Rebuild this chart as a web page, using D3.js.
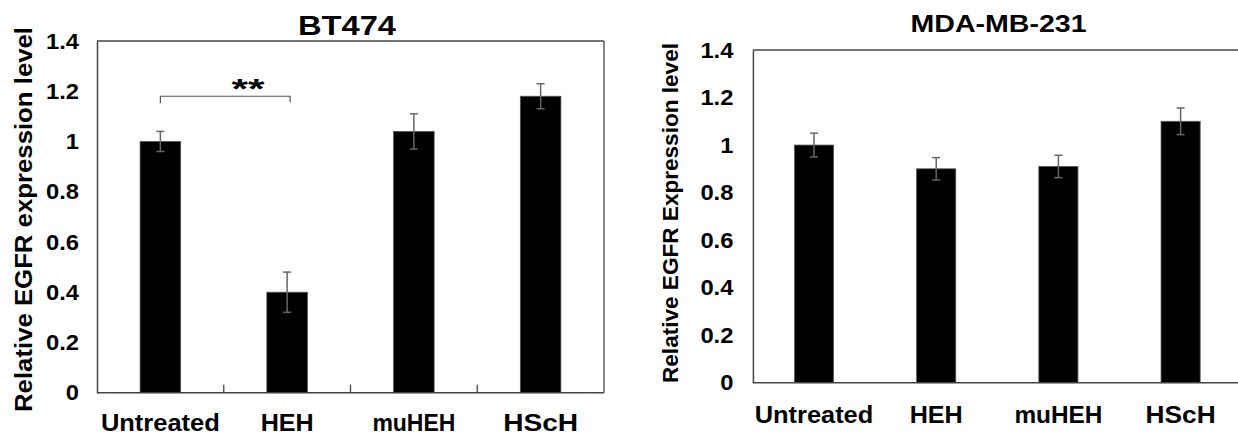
<!DOCTYPE html>
<html>
<head>
<meta charset="utf-8">
<script src="https://cdn.jsdelivr.net/npm/d3@7"></script>
<style>
  body { margin: 0; background: #fff; }
  text { font-family: "Liberation Sans", Arial, sans-serif; font-weight: bold; fill: #000; }
</style>
</head>
<body>
<script>
// data
var groups = ["Untreated", "HEH", "muHEH", "HScH"];
var yTicks = [0, 0.2, 0.4, 0.6, 0.8, 1, 1.2, 1.4];

var bt474Values = [1.0, 0.40, 1.04, 1.18];
var bt474Errors = [0.04, 0.08, 0.07, 0.05];

var mdaValues = [1.0, 0.90, 0.91, 1.10];
var mdaErrors = [0.05, 0.047, 0.047, 0.056];

var svg = d3.select("body").append("svg")
    .attr("width", 1238)
    .attr("height", 438);

svg.append("rect").attr("width", 1238).attr("height", 438).attr("fill", "#fff");

var tickStretch = 1.08;

// one panel, drawn with its own scales
function panel(opt) {
    var x = d3.scaleBand()
        .domain(groups)
        .range([opt.left, opt.right])
        .paddingInner(0.68)
        .paddingOuter(0.34);

    var y = d3.scaleLinear()
        .domain([0, 1.4])
        .range([opt.bottom, opt.top]);

    var g = svg.append("g");

    // frame: top line and (optional) right line
    g.append("line")
        .attr("x1", opt.left).attr("x2", opt.frameRight)
        .attr("y1", opt.top).attr("y2", opt.top)
        .attr("stroke", "#444").attr("stroke-width", 1.3);
    if (opt.rightBorder) {
        g.append("line")
            .attr("x1", opt.right).attr("x2", opt.right)
            .attr("y1", opt.top).attr("y2", opt.bottom)
            .attr("stroke", "#444").attr("stroke-width", 1.3);
    }

    // bars
    g.selectAll("rect.bar")
        .data(opt.values)
        .enter().append("rect")
        .attr("class", "bar")
        .attr("x", function(d, i) { return x(groups[i]); })
        .attr("width", x.bandwidth())
        .attr("y", function(d) { return y(d); })
        .attr("height", function(d) { return y(0) - y(d); })
        .attr("fill", "#000")
        .attr("stroke", "#555")
        .attr("stroke-width", 0.8);

    // error bars
    var eb = g.selectAll("g.err")
        .data(opt.values)
        .enter().append("g")
        .attr("class", "err")
        .attr("stroke", "#666")
        .attr("stroke-width", 1.5);
    eb.append("line")
        .attr("x1", function(d, i) { return x(groups[i]) + x.bandwidth() / 2; })
        .attr("x2", function(d, i) { return x(groups[i]) + x.bandwidth() / 2; })
        .attr("y1", function(d, i) { return y(d + opt.errors[i]); })
        .attr("y2", function(d, i) { return y(d - opt.errors[i]); });
    [1, -1].forEach(function(s) {
        eb.append("line")
            .attr("x1", function(d, i) { return x(groups[i]) + x.bandwidth() / 2 - 4; })
            .attr("x2", function(d, i) { return x(groups[i]) + x.bandwidth() / 2 + 4; })
            .attr("y1", function(d, i) { return y(d + s * opt.errors[i]); })
            .attr("y2", function(d, i) { return y(d + s * opt.errors[i]); });
    });

    // y axis (labels stretched a bit sideways like the source image)
    var ya = g.append("g")
        .attr("transform", "translate(" + opt.left + ",0)")
        .call(d3.axisLeft(y).tickValues(yTicks).tickSize(0).tickPadding(opt.tickPad / tickStretch)
            .tickFormat(function(d) { return d3.format("")(d); }));
    ya.select(".domain").attr("stroke", "#444").attr("stroke-width", 1.5);
    ya.selectAll("text")
        .attr("font-size", opt.tickFont)
        .attr("font-family", "Liberation Sans, Arial, sans-serif")
        .attr("font-weight", "bold")
        .attr("fill", "#000")
        .attr("transform", "scale(" + tickStretch + ",1)");

    // x axis: baseline, optional boundary ticks pointing up
    var xa = g.append("g")
        .attr("transform", "translate(0," + opt.bottom + ")");
    xa.append("line")
        .attr("x1", opt.left).attr("x2", opt.frameRight)
        .attr("stroke", "#444").attr("stroke-width", 1.5);
    if (opt.boundaryTicks) {
        xa.selectAll("line.tick")
            .data(groups.slice(1))
            .enter().append("line")
            .attr("class", "tick")
            .attr("x1", function(d) { return x(d) - x.step() * 0.34; })
            .attr("x2", function(d) { return x(d) - x.step() * 0.34; })
            .attr("y1", 0).attr("y2", -8)
            .attr("stroke", "#444").attr("stroke-width", 1.3);
    }
    xa.selectAll("text")
        .data(groups)
        .enter().append("text")
        .attr("x", function(d) { return x(d) + x.bandwidth() / 2; })
        .attr("y", opt.labelY - opt.bottom)
        .attr("text-anchor", "middle")
        .attr("font-size", 24)
        .attr("textLength", function(d, i) { return opt.labelWidths[i]; })
        .attr("lengthAdjust", "spacingAndGlyphs")
        .text(function(d) { return d; });

    // title
    g.append("text")
        .attr("x", opt.titleX)
        .attr("y", opt.titleY)
        .attr("text-anchor", "middle")
        .attr("font-size", opt.titleFont)
        .attr("textLength", opt.titleWidth)
        .attr("lengthAdjust", "spacingAndGlyphs")
        .text(opt.title);

    // y axis label
    g.append("text")
        .attr("transform", "translate(" + opt.yLabelX + "," + opt.yLabelMid + ") rotate(-90)")
        .attr("text-anchor", "middle")
        .attr("font-size", opt.yLabelFont)
        .attr("textLength", opt.yLabelLen)
        .attr("lengthAdjust", "spacingAndGlyphs")
        .text(opt.yLabel);

    return {x: x, y: y, g: g};
}

var left = panel({
    left: 97, right: 604, frameRight: 604, top: 41, bottom: 392.7,
    rightBorder: true, boundaryTicks: true,
    values: bt474Values, errors: bt474Errors,
    tickPad: 18, tickFont: 22,
    labelY: 430.7, labelWidths: [119, 53, 83, 75],
    title: "BT474", titleX: 347, titleY: 35, titleFont: 28, titleWidth: 98,
    yLabel: "Relative EGFR expression level", yLabelX: 32, yLabelMid: 219.5,
    yLabelFont: 24.5, yLabelLen: 385
});

var right = panel({
    left: 752.9, right: 1241.7, frameRight: 1238, top: 50, bottom: 382.7,
    rightBorder: false, boundaryTicks: false,
    values: mdaValues, errors: mdaErrors,
    tickPad: 19.5, tickFont: 22,
    labelY: 422.7, labelWidths: [118.6, 53, 88, 70],
    title: "MDA-MB-231", titleX: 998.6, titleY: 32.3, titleFont: 24, titleWidth: 176,
    yLabel: "Relative EGFR Expression level", yLabelX: 678, yLabelMid: 213,
    yLabelFont: 22.7, yLabelLen: 340
});

// significance bracket (Untreated vs HEH) on BT474
var bx = left.x, by = left.y;
var x1 = bx("Untreated") + bx.bandwidth() / 2,
    x2 = bx("HEH") + bx.bandwidth() / 2 + 3,
    yb = by(1.18);
left.g.append("path")
    .attr("d", "M" + x1 + "," + (yb + 7) + "V" + yb + "H" + x2 + "V" + (yb + 6))
    .attr("fill", "none")
    .attr("stroke", "#555")
    .attr("stroke-width", 1.2);
left.g.append("text")
    .attr("x", 248)
    .attr("y", yb + 2)
    .attr("text-anchor", "middle")
    .attr("font-size", 28)
    .attr("textLength", 33)
    .attr("lengthAdjust", "spacingAndGlyphs")
    .text("**");
</script>
</body>
</html>
